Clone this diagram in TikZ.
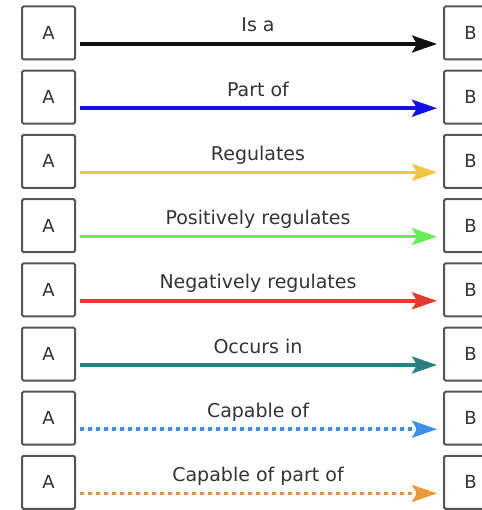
\documentclass[tikz,border=0pt]{standalone}
\usepackage{fontspec}
\setmainfont{DejaVu Sans}
\usetikzlibrary{arrows.meta,calc}
\definecolor{txt}{HTML}{333333}
\definecolor{boxc}{HTML}{555555}
\definecolor{cIsa}{HTML}{111111}
\definecolor{cPart}{HTML}{1010E8}
\definecolor{cReg}{HTML}{F5C342}
\definecolor{cPos}{HTML}{66EE55}
\definecolor{cNeg}{HTML}{E63A2E}
\definecolor{cOcc}{HTML}{2E8080}
\definecolor{cCap}{HTML}{3B8FEA}
\definecolor{cCapP}{HTML}{F0963A}
\tikzset{
  ebox/.style={draw=boxc, line width=2bp, rounded corners=1.5bp, minimum width=53bp, minimum height=53bp, inner sep=0pt, text=txt, font=\fontsize{18bp}{20bp}\selectfont},
  rel/.style={line width=3.5bp, shorten <=4bp, shorten >=6bp, -{Stealth[length=25bp,width=17bp,inset=5bp]}},
  dotrel/.style={rel, dash pattern=on 4bp off 4bp},
  lab/.style={text=txt, font=\fontsize{19bp}{21bp}\selectfont, anchor=base, inner sep=0pt}
}
\begin{document}
\begin{tikzpicture}[x=1bp,y=1bp]
\useasboundingbox (0,0) rectangle (482,-510);
\clip (0,0) rectangle (482,-510);
\foreach \i/\lbl/\col/\sty in {0/Is a/cIsa/rel, 1/Part of/cPart/rel, 2/Regulates/cReg/rel, 3/Positively regulates/cPos/rel, 4/Negatively regulates/cNeg/rel, 5/Occurs in/cOcc/rel, 6/Capable of/cCap/dotrel, 7/Capable of part of/cCapP/dotrel}{
  \pgfmathsetmacro{\yc}{-(33+64.2*\i)}
  \node[ebox] (A\i) at (48.5,\yc) {\raisebox{-2bp}{A}};
  \node[ebox] (B\i) at (470.5,\yc) {\raisebox{-2bp}{B}};
  \draw[\sty, draw=\col, fill=\col] ([yshift=-11bp]A\i.east) -- ([yshift=-11bp]B\i.west);
  \node[lab] (L\i) at (258,\yc+1) {\lbl};
}
\end{tikzpicture}
\end{document}
